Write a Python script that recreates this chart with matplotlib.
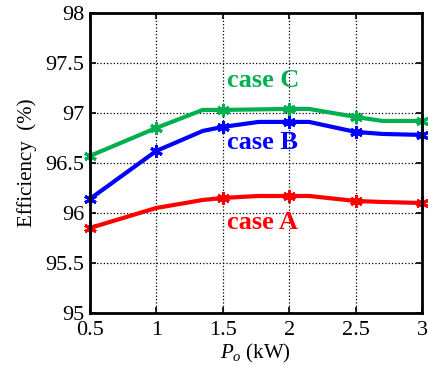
import matplotlib.pyplot as plt

plt.rcParams['font.family'] = ['Liberation Serif', 'DejaVu Serif']
plt.rcParams['mathtext.fontset'] = 'custom'
plt.rcParams['mathtext.it'] = 'Liberation Serif:italic'
plt.rcParams['mathtext.rm'] = 'Liberation Serif'

# power (kW); the curves have extra unmarked vertices between the marked points
power = [0.5, 1.0, 1.35, 1.5, 1.77, 2.0, 2.15, 2.5, 2.7, 3.0]
eff_a = [95.85, 96.05, 96.13, 96.15, 96.17, 96.17, 96.17, 96.12, 96.11, 96.10]
eff_b = [96.14, 96.62, 96.82, 96.86, 96.91, 96.91, 96.91, 96.81, 96.79, 96.78]
eff_c = [96.57, 96.85, 97.03, 97.03, 97.035, 97.04, 97.04, 96.96, 96.92, 96.92]
marks_a = [0, 3, 5, 7, 9]
marks_bc = [0, 1, 3, 5, 7, 9]

fig = plt.figure(figsize=(4.28, 3.67), dpi=100)
ax = fig.add_axes([0.210, 0.147, 0.776, 0.818])

for y, col, mk in [(eff_a, '#FF0000', marks_a), (eff_b, '#0000FF', marks_bc),
                   (eff_c, '#00B050', marks_bc)]:
    ax.plot(power, y, color=col, lw=3, marker=(6, 2, 0), markevery=mk,
            markersize=9, markeredgewidth=2.2, markeredgecolor=col, clip_on=False)

ax.text(1.53, 97.32, 'case C', color='#00B050', fontsize=19, fontweight='bold', va='center')
ax.text(1.53, 96.70, 'case B', color='#0000FF', fontsize=19, fontweight='bold', va='center')
ax.text(1.53, 95.90, 'case A', color='#FF0000', fontsize=19, fontweight='bold', va='center')

ax.set_xlim(0.5, 3)
ax.set_ylim(95, 98)
ax.set_xticks([0.5, 1, 1.5, 2, 2.5, 3])
ax.set_xticklabels(['0.5', '1', '1.5', '2', '2.5', '3'])
ax.set_yticks([95, 95.5, 96, 96.5, 97, 97.5, 98])
ax.set_yticklabels(['95', '95.5', '96', '96.5', '97', '97.5', '98'])
ax.grid(True, color='black', linestyle=':', linewidth=0.9)
ax.tick_params(direction='in', top=True, right=True, labelsize=16, length=4, width=1.2)
ax.tick_params(axis='x', pad=6)
ax.tick_params(axis='y', pad=4)
for s in ax.spines.values():
    s.set_linewidth(2)

ax.set_xlabel('$P_o$ (kW)', fontsize=15, labelpad=1)
ax.set_ylabel('Efficiency  (%)', fontsize=15, labelpad=6)

fig.savefig('out.png', dpi=100)
